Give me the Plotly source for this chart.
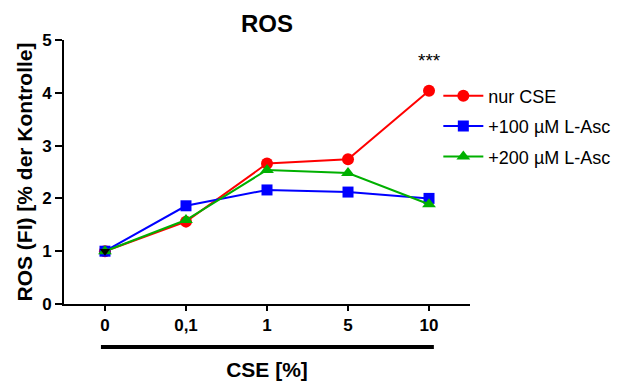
import plotly.graph_objects as go

categories = ["0", "0,1", "1", "5", "10"]
nur_cse = [1.0, 1.56, 2.66, 2.74, 4.04]
asc_100 = [1.0, 1.86, 2.16, 2.12, 2.0]
asc_200 = [1.0, 1.59, 2.54, 2.48, 1.89]
kontrolle = [1.0]
kontrolle_cat = ["0"]
y_ticks = [0, 1, 2, 3, 4, 5]

x_idx = list(range(len(categories)))
font_family = "Liberation Sans, Arial, sans-serif"

# the page body has an 8px margin, so the figure is drawn 8px smaller
W, H = 615, 373

fig = go.Figure()
fig.add_trace(go.Scatter(x=x_idx, y=nur_cse, name="nur CSE", mode="lines+markers",
                         legendgroup="g1",
                         line=dict(color="#ff0000", width=2),
                         marker=dict(symbol="circle", size=12, color="#ff0000")))
fig.add_trace(go.Scatter(x=x_idx, y=asc_100, name="+100 µM L-Asc", mode="lines+markers",
                         legendgroup="g2",
                         line=dict(color="#0000ff", width=2),
                         marker=dict(symbol="square", size=11, color="#0000ff")))
fig.add_trace(go.Scatter(x=x_idx, y=asc_200, name="+200 µM L-Asc", mode="lines+markers",
                         legendgroup="g3",
                         line=dict(color="#00b000", width=2),
                         marker=dict(symbol="triangle-up", size=12, color="#00b000")))
fig.add_trace(go.Scatter(x=[categories.index(c) for c in kontrolle_cat], y=kontrolle,
                         name="Kontrolle", mode="markers", showlegend=False,
                         marker=dict(symbol="triangle-down", size=9, color="#000000")))

fig.add_annotation(x=4, y=4.62, xref="x", yref="y", text="***", showarrow=False,
                   font=dict(family=font_family, size=19, color="#000000"))

# thick bar under the x tick labels
fig.add_shape(type="line", xref="x", yref="paper", x0=-0.05, x1=4.06, y0=-0.163, y1=-0.163,
              line=dict(color="#000000", width=4))

fig.update_layout(
    width=W, height=H,
    margin=dict(l=56, r=153, t=32, b=77, autoexpand=False),
    paper_bgcolor="white", plot_bgcolor="white",
    title=dict(text="<b>ROS</b>", x=(259 / W), xanchor="center", y=1 - 16 / H, yanchor="middle",
               font=dict(family=font_family, size=24, color="#000000")),
    font=dict(family=font_family, color="#000000"),
    legend=dict(x=0.922, y=0.858, xanchor="left", yanchor="top",
                font=dict(family=font_family, size=18, color="#000000"),
                bgcolor="rgba(0,0,0,0)", tracegroupgap=4, itemwidth=40),
    xaxis=dict(range=[-0.506, 4.506], tickmode="array", tickvals=x_idx,
               ticktext=[f"<b>{c}</b>" for c in categories], automargin=False,
               showline=True, linecolor="#000000", linewidth=2, ticks="outside", ticklen=5,
               tickwidth=2, tickcolor="#000000", showgrid=False, zeroline=False,
               tickfont=dict(family=font_family, size=17, color="#000000"),
               title=dict(text="<b>CSE [%]</b>", standoff=34,
                          font=dict(family=font_family, size=21, color="#000000"))),
    yaxis=dict(range=[0, 5], tickmode="array", tickvals=y_ticks, automargin=False,
               ticktext=[f"<b>{v}</b>" for v in y_ticks], showline=True, linecolor="#000000",
               linewidth=2, ticks="outside", ticklen=7, tickwidth=2, tickcolor="#000000",
               showgrid=False, zeroline=False,
               tickfont=dict(family=font_family, size=17, color="#000000"),
               title=dict(text="<b>ROS (FI) [% der Kontrolle]</b>", standoff=4,
                          font=dict(family=font_family, size=21, color="#000000"))),
)

fig.write_html("out.html")
